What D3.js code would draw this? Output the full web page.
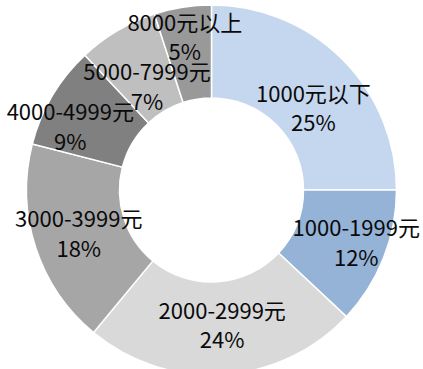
<!DOCTYPE html>
<html>
<head>
<meta charset="utf-8">
<script src="https://cdn.jsdelivr.net/npm/d3@7/dist/d3.min.js"></script>
<style>
  html, body { margin: 0; padding: 0; background: #ffffff; }
  svg { display: block; }
</style>
</head>
<body>
<script>
// Monthly income bands and their shares (%)
const categories = ["1000元以下", "1000-1999元", "2000-2999元", "3000-3999元", "4000-4999元", "5000-7999元", "8000元以上"];
const shares = [25, 12, 24, 18, 9, 7, 5];
const percentLabels = ["25%", "12%", "24%", "18%", "9%", "7%", "5%"];
const sliceColors = ["#c5d7ee", "#95b3d7", "#d9d9d9", "#a6a6a6", "#808080", "#bfbfbf", "#999999"];

const width = 423, height = 369;
const cx = 211.5, cy = 190;
const outerR = 185, innerR = 92;
const labelR = (outerR + innerR) / 2;

// small nudges so neighbouring labels keep clear of each other
const labelNudge = [[4, 15], [16, 1], [2, -4], [-1, 0], [-22, 6], [6, 15], [-5, -17]];

const svg = d3.select("body").append("svg")
  .attr("width", width)
  .attr("height", height);

const g = svg.append("g").attr("transform", `translate(${cx},${cy})`);

const pie = d3.pie().sort(null).value(d => d.value);
const data = categories.map((c, i) => ({ name: c, value: shares[i], pct: percentLabels[i], color: sliceColors[i] }));
const arcs = pie(data);

const arc = d3.arc().innerRadius(innerR).outerRadius(outerR);
const labelArc = d3.arc().innerRadius(labelR).outerRadius(labelR);

g.selectAll("path.slice")
  .data(arcs)
  .join("path")
  .attr("class", "slice")
  .attr("d", arc)
  .attr("fill", d => d.data.color)
  .attr("stroke", "#ffffff")
  .attr("stroke-width", 1.5);

const labels = g.selectAll("text.lbl")
  .data(arcs)
  .join("text")
  .attr("class", "lbl")
  .attr("transform", (d, i) => {
    const [x, y] = labelArc.centroid(d);
    return `translate(${x + labelNudge[i][0]},${y + labelNudge[i][1]})`;
  })
  .attr("text-anchor", "middle")
  .style("font-family", "'Noto Sans CJK SC', 'Noto Sans', sans-serif")
  .style("font-size", "22px")
  .attr("fill", "#0a0a0a");

labels.append("tspan")
  .attr("x", 0)
  .attr("dy", "-0.25em")
  .text(d => d.data.name);

labels.append("tspan")
  .attr("x", 0)
  .attr("dy", "1.35em")
  .text(d => d.data.pct);
</script>
</body>
</html>
